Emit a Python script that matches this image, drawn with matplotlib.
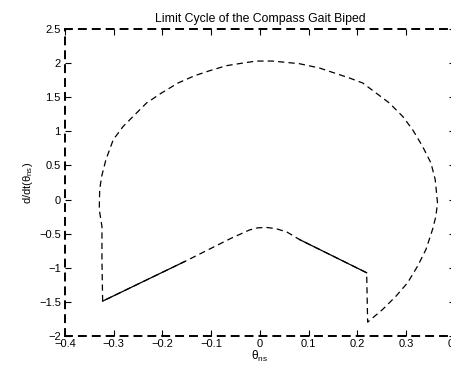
import matplotlib
matplotlib.use("Agg")
import matplotlib.pyplot as plt
import numpy as np

plt.rcParams['font.family'] = ['Liberation Sans', 'DejaVu Sans']
plt.rcParams['mathtext.fontset'] = 'custom'
plt.rcParams['mathtext.rm'] = 'Liberation Sans'
plt.rcParams['mathtext.it'] = 'Liberation Sans'
plt.rcParams['mathtext.default'] = 'regular'
plt.rcParams['lines.scale_dashes'] = False

# Limit cycle trajectory (theta_ns, d/dt theta_ns)
theta = [-0.3228, -0.3242, -0.3242, -0.3297, -0.3289, -0.3248, -0.3160, -0.3010,
         -0.2806, -0.2566, -0.2327, -0.2020, -0.1680, -0.1338, -0.1031, -0.0690,
         -0.0350, -0.0076, 0.0264, 0.0810, 0.1220, 0.1527, 0.1834, 0.2106,
         0.2380, 0.2652, 0.2925, 0.3130, 0.3334, 0.3506, 0.3594, 0.3641,
         0.3608, 0.3539, 0.3404, 0.3232, 0.3027, 0.2790, 0.2515, 0.2208,
         0.2188, 0.0810, 0.0550, 0.0334, 0.0129, -0.0050, -0.0213, -0.0600,
         -0.1543, -0.3228]
dtheta = [-1.489, -0.878, -0.395, -0.146, 0.146, 0.341, 0.586, 0.878,
          1.073, 1.245, 1.416, 1.562, 1.709, 1.816, 1.889, 1.962,
          2.001, 2.030, 2.030, 1.991, 1.928, 1.855, 1.782, 1.709,
          1.562, 1.416, 1.220, 1.025, 0.780, 0.537, 0.293, -0.048,
          -0.245, -0.439, -0.732, -0.977, -1.220, -1.416, -1.611, -1.797,
          -1.073, -0.586, -0.475, -0.428, -0.408, -0.415, -0.445, -0.570,
          -0.908, -1.489]

# index ranges of the portions that appear solid (overlapping passes)
solid_a = (40, 42)   # after impact, right straight part
solid_b = (48, 50)   # left straight part

xticks = [-0.4, -0.3, -0.2, -0.1, 0, 0.1, 0.2, 0.3, 0.4]
yticks = [-2, -1.5, -1, -0.5, 0, 0.5, 1, 1.5, 2, 2.5]
xticklabels = ['\u22120.4', '\u22120.3', '\u22120.2', '\u22120.1', '0', '0.1', '0.2', '0.3', '0.4']
yticklabels = ['\u22122', '\u22121.5', '\u22121', '\u22120.5', '0', '0.5', '1', '1.5', '2', '2.5']

fig = plt.figure(figsize=(4.52, 3.70), dpi=100)
ax = fig.add_axes([65/452, 34/370, 390/452, 307/370])

ax.plot(theta, dtheta, color='black', lw=0.9, linestyle=(0, (4.5, 3.0)))
ax.plot(theta[solid_a[0]:solid_a[1]], dtheta[solid_a[0]:solid_a[1]], color='black', lw=0.9)
ax.plot(theta[solid_b[0]:solid_b[1]], dtheta[solid_b[0]:solid_b[1]], color='black', lw=0.9)

ax.set_xlim(-0.4, 0.4)
ax.set_ylim(-2, 2.5)
ax.set_xticks(xticks)
ax.set_xticklabels(xticklabels)
ax.set_yticks(yticks)
ax.set_yticklabels(yticklabels)
ax.tick_params(direction='in', length=4, width=0.8, labelsize=8,
               top=True, right=True, pad=2)
ax.tick_params(axis='y', pad=3)

for s in ax.spines.values():
    s.set_linestyle((0, (5, 5)))
    s.set_linewidth(1.4)

ax.set_title('Limit Cycle of the Compass Gait Biped', fontsize=8.8, pad=5)
ax.set_xlabel(r'$\theta_{ns}$', fontsize=8.5, labelpad=0)
ax.set_ylabel(r'd/dt($\theta_{ns}$)', fontsize=8, labelpad=3)

fig.savefig('out.png', dpi=100)
